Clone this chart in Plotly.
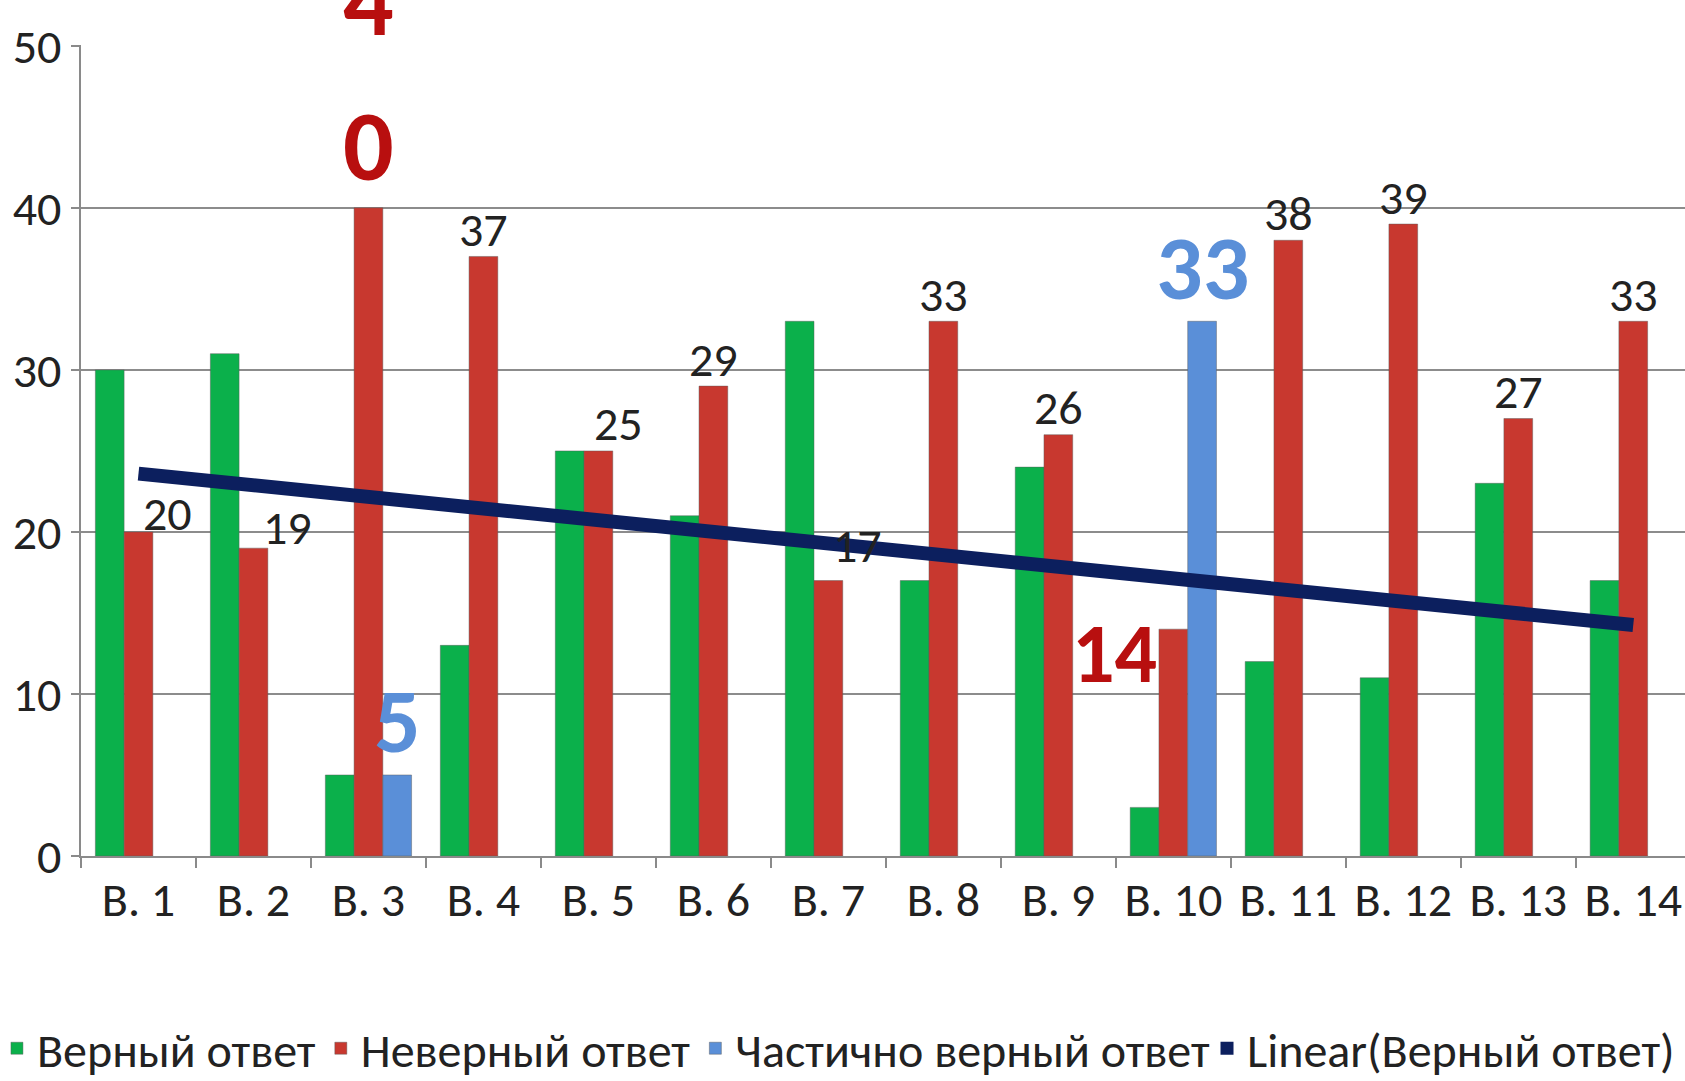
import numpy as np
import plotly.graph_objects as go

categories = ["В. 1", "В. 2", "В. 3", "В. 4", "В. 5", "В. 6", "В. 7",
              "В. 8", "В. 9", "В. 10", "В. 11", "В. 12", "В. 13", "В. 14"]
correct = [30, 31, 5, 13, 25, 21, 33, 17, 24, 3, 12, 11, 23, 17]
wrong = [20, 19, 40, 37, 25, 29, 17, 33, 26, 14, 38, 39, 27, 33]
partial = [None, None, 5, None, None, None, None, None, None, 33, None, None, None, None]

names = ["Верный ответ", "Неверный ответ", "Частично верный ответ", "Linear(Верный ответ)"]

GREEN = "#0BB04B"
RED = "#C8382F"
BLUE = "#5A8FD8"
NAVY = "#0C1F5E"
DARKRED = "#B80F0F"
FONT = "Carlito, Calibri, 'Liberation Sans Narrow', 'Open Sans', sans-serif"

# linear trend of correct answers (Excel-style trendline)
xi = np.arange(1, len(correct) + 1)
slope, intercept = np.polyfit(xi, correct, 1)
trend = slope * xi + intercept

fig = go.Figure()
outline = dict(color="rgba(90,90,90,0.45)", width=1)
fig.add_trace(go.Bar(x=categories, y=correct, name=names[0],
                     marker=dict(color=GREEN, line=outline)))
fig.add_trace(go.Bar(x=categories, y=wrong, name=names[1],
                     marker=dict(color=RED, line=outline)))
fig.add_trace(go.Bar(x=categories, y=partial, name=names[2],
                     marker=dict(color=BLUE, line=outline)))
fig.add_trace(go.Scatter(x=categories, y=trend, mode="lines", showlegend=False,
                         line=dict(color=NAVY, width=14), hoverinfo="skip"))
# legend entry for the trendline (square symbol, as in the source)
fig.add_trace(go.Scatter(x=[None], y=[None], mode="markers", name=names[3],
                         marker=dict(color=NAVY, symbol="square", size=13),
                         legend="legend2", hoverinfo="skip"))

annotations = []
# standard small labels above the red bars, some nudged as in the source
nudges = {0: (29, 18), 1: (34, 21), 4: (20, 27), 6: (29, 35)}
for i, v in enumerate(wrong):
    if i in (2, 9):
        continue
    dx, dy = nudges.get(i, (0, 27))
    annotations.append(dict(x=i, y=v, text=str(v), showarrow=False,
                            xshift=dx, yshift=dy, yanchor="middle",
                            font=dict(size=48, color="#222222", family=FONT)))
# big highlighted labels
w3 = str(wrong[2])
annotations.append(dict(x=2, y=wrong[2], text=w3[0], showarrow=False, yshift=207,
                        yanchor="middle", font=dict(size=100, color=DARKRED, family=FONT, weight="bold")))
annotations.append(dict(x=2, y=wrong[2], text=w3[1], showarrow=False, yshift=62,
                        yanchor="middle", font=dict(size=100, color=DARKRED, family=FONT, weight="bold")))
annotations.append(dict(x=9, y=wrong[9], text=str(wrong[9]), showarrow=False,
                        xshift=-59, yshift=-24, yanchor="middle",
                        font=dict(size=84, color=DARKRED, family=FONT, weight="bold")))
for i, v in enumerate(partial):
    if v is None:
        continue
    annotations.append(dict(x=i + 0.25, y=v, text=str(v), showarrow=False, yshift=54,
                            yanchor="middle",
                            font=dict(size=92, color=BLUE, family=FONT, weight="bold")))

legend_common = dict(orientation="h", xref="paper", yref="paper", xanchor="left",
                     y=-0.2374, yanchor="middle",
                     font=dict(size=48, family=FONT, color="#222222"),
                     itemwidth=30, tracegroupgap=0, bgcolor="rgba(0,0,0,0)")

fig.update_layout(
    width=1685, height=1081,
    margin=dict(l=81, r=0, t=45, b=225, autoexpand=False),
    paper_bgcolor="white", plot_bgcolor="white",
    barmode="group", bargap=0.25, bargroupgap=0,
    font=dict(family=FONT, size=48, color="#222222"),
    showlegend=True,
    legend=dict(x=-0.0524, **legend_common),
    legend2=dict(x=0.702, **legend_common),
    annotations=annotations,
)
fig.update_xaxes(type="category", range=[-0.5, 13.45], showline=True,
                 linecolor="#8a8a8a", linewidth=2, ticks="outside", tickson="boundaries",
                 ticklen=10, tickwidth=2, tickcolor="#8a8a8a", showgrid=False,
                 tickfont=dict(size=48, family=FONT, color="#222222"))
fig.update_yaxes(range=[0, 50.05], tickvals=[0, 10, 20, 30, 40, 50], showline=True,
                 linecolor="#8a8a8a", linewidth=2, ticks="outside", ticklen=8,
                 tickwidth=2, tickcolor="#8a8a8a", showgrid=True, gridcolor="#8c8c8c",
                 gridwidth=2, zeroline=False,
                 tickfont=dict(size=48, family=FONT, color="#222222"))

fig.write_html("out.html", config={"displayModeBar": False},
               post_script="document.body.style.margin='0';"
                           "document.body.style.overflow='hidden';")
